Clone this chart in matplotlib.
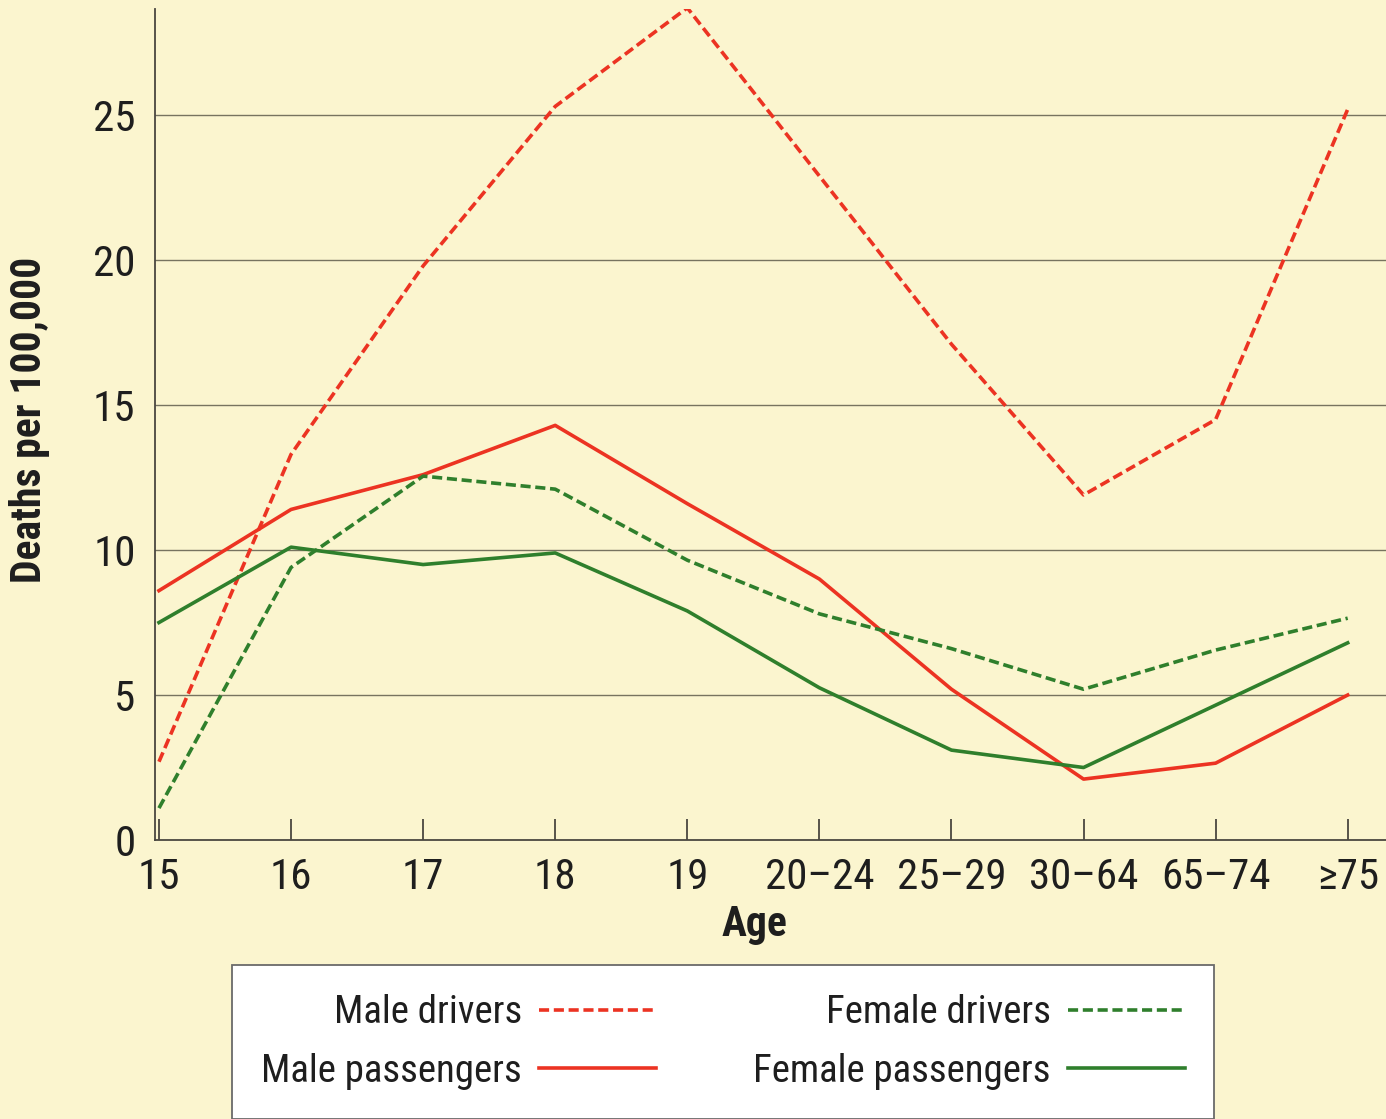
import matplotlib
matplotlib.use("Agg")
import matplotlib.pyplot as plt
from matplotlib import font_manager

ages = ["15", "16", "17", "18", "19", "20–24", "25–29", "30–64", "65–74", "≥75"]
male_drivers = [2.7, 13.3, 19.8, 25.3, 28.7, 22.9, 17.1, 11.9, 14.5, 25.2]
male_passengers = [8.6, 11.4, 12.6, 14.3, 11.6, 9.0, 5.2, 2.1, 2.65, 5.0]
female_drivers = [1.1, 9.4, 12.55, 12.1, 9.65, 7.8, 6.6, 5.2, 6.55, 7.65]
female_passengers = [7.5, 10.1, 9.5, 9.9, 7.9, 5.25, 3.1, 2.5, 4.65, 6.8]
yticks = [0, 5, 10, 15, 20, 25]

names = {f.name for f in font_manager.fontManager.ttflist}
fam = [f for f in ["Liberation Sans Narrow", "Roboto Condensed", "Liberation Sans", "DejaVu Sans"] if f in names]
plt.rcParams["font.family"] = fam

bg = "#fbf5cf"
red = "#ec3322"
green = "#2f7f2c"

fig = plt.figure(figsize=(13.86, 11.19), dpi=100, facecolor=bg)
ax = fig.add_axes([155 / 1386, 1 - 840 / 1119, 1 - 155 / 1386, (840 - 9) / 1119])
ax.set_facecolor(bg)

x = list(range(len(ages)))
dash = (2.8, 1.3)
lw = 2.6
ax.plot(x, male_drivers, color=red, lw=lw, ls=(0, dash), label="Male drivers", zorder=3)
ax.plot(x, male_passengers, color=red, lw=lw, label="Male passengers", zorder=3)
ax.plot(x, female_drivers, color=green, lw=lw, ls=(0, dash), label="Female drivers", zorder=3)
ax.plot(x, female_passengers, color=green, lw=lw, label="Female passengers", zorder=3)

ax.set_xlim(-0.03, 9.29)
ax.set_ylim(0, 28.66)
ax.set_xticks(x)
ax.set_xticklabels(ages)
ax.set_yticks(yticks)
ax.set_yticklabels([str(v) for v in yticks])
for v in yticks[1:]:
    ax.axhline(v, color="#77735f", lw=1.0, zorder=1)

for s in ["top", "right"]:
    ax.spines[s].set_visible(False)
for s in ["left", "bottom"]:
    ax.spines[s].set_color("#4a4740")
    ax.spines[s].set_linewidth(1.3)

ax.tick_params(axis="x", direction="in", length=15, width=1.3, color="#4a4740",
               labelsize=31, pad=12, labelcolor="#1e1e1e")
ax.tick_params(axis="y", length=0, labelsize=31, pad=14, labelcolor="#1e1e1e")
for lab in ax.get_yticklabels():
    lab.set_va("center_baseline")

ax.set_ylabel("Deaths per 100,000", fontsize=30, fontweight="bold", color="#1e1e1e")
ax.yaxis.set_label_coords(-0.085, 0.505)
ax.set_xlabel("Age", fontsize=30, fontweight="bold", color="#1e1e1e")
ax.xaxis.label.set_va("center")
ax.xaxis.set_label_coords(0.487, -0.102)

leg = ax.legend(ncol=2, markerfirst=False, loc="upper left",
                bbox_to_anchor=(232 / 1386, 1 - 965 / 1119), bbox_transform=fig.transFigure,
                fontsize=28, handlelength=3.0, handletextpad=0.45, columnspacing=2.5,
                labelspacing=0.55, borderpad=0.75, borderaxespad=0, fancybox=False,
                frameon=True, facecolor="white", edgecolor="#6a6a6a", framealpha=1)
leg.get_frame().set_linewidth(1.3)
for t in leg.get_texts():
    t.set_color("#1e1e1e")

fig.savefig("out.png", dpi=100, facecolor=bg)
